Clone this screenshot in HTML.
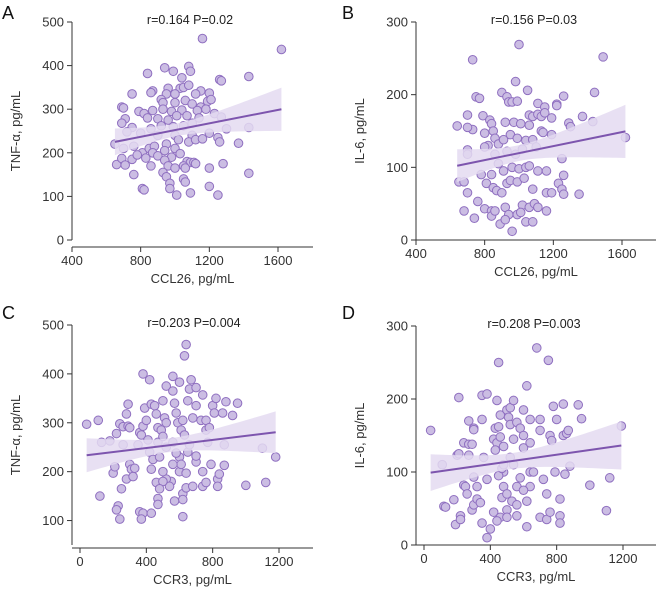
<!DOCTYPE html>
<html><head><meta charset="utf-8"><style>
body{margin:0;background:#fff}
svg{display:block;font-family:"Liberation Sans",sans-serif}
</style></head><body>
<svg id="c" width="659" height="596" viewBox="0 0 659 596"></svg>
<script>
const aX=[1160,1620,1080,940,990,1090,840,1430,1040,1260,1270,960,1030,1050,1080,1150,1200,870,860,750,950,1000,1120,920,1060,1190,1210,930,1000,1100,690,700,1150,1180,790,820,870,930,980,1040,1070,1130,1230,710,840,900,960,1010,1140,1270,690,750,860,920,990,1050,1100,1300,1430,1100,1000,900,800,720,1200,650,700,760,810,850,880,950,1020,1080,1120,1160,1250,1260,1370,660,690,710,750,780,830,860,870,900,940,980,1000,1030,1070,1090,1110,940,960,1000,1050,1060,1120,1200,1280,760,930,950,970,1050,1060,1430,810,820,970,1010,1090,1200,1250];
const aY=[462,437,398,395,387,387,382,375,372,368,365,348,348,350,355,342,337,342,338,335,335,335,335,322,320,318,322,315,315,312,305,303,305,300,295,290,297,300,295,298,285,297,290,278,280,278,275,285,280,282,268,258,255,262,260,262,268,255,258,240,240,240,245,248,245,220,210,215,200,210,215,220,230,225,230,232,235,225,222,173,187,172,185,195,188,170,200,193,205,190,210,198,180,178,178,183,170,165,170,165,175,165,175,150,155,145,130,140,133,153,118,115,118,103,108,123,103];
const bX=[1000,730,1490,980,1050,750,770,900,930,940,960,990,1110,1260,1440,1220,1150,1220,1370,1430,700,790,1060,1080,1110,1130,1150,640,730,700,830,840,920,970,1010,1060,1130,1190,1290,1300,1620,800,850,860,820,880,910,950,990,1040,1080,1140,1190,700,700,800,860,930,980,1020,1100,1250,840,880,910,960,1000,1040,1060,1110,1160,1260,780,650,680,810,850,870,900,930,950,990,1030,1080,1160,1190,1230,1250,1260,1350,700,760,800,840,840,860,920,940,990,1020,1060,1090,1110,1160,680,740,890,920,960,1040,1080,1010];
const bY=[269,248,252,218,206,197,195,203,197,190,190,191,188,198,203,187,183,185,170,163,172,171,172,170,173,170,175,157,152,155,165,160,162,162,160,158,150,168,161,156,141,147,150,140,130,132,138,145,140,137,138,148,145,124,118,128,118,122,118,125,128,112,90,105,95,100,98,100,102,95,95,89,90,80,80,78,72,68,65,78,82,80,85,70,65,65,78,70,63,63,65,53,43,40,33,40,45,35,35,48,45,50,45,40,40,30,22,28,12,25,25,38];
const cX=[40,110,130,120,180,200,220,210,230,220,240,250,240,260,260,280,290,290,300,280,300,310,320,330,350,360,370,380,390,380,420,400,410,360,380,370,430,430,450,460,470,470,420,440,430,460,480,470,470,490,500,510,500,520,520,560,560,570,600,580,590,610,620,630,640,630,660,650,670,700,700,680,600,600,610,620,620,620,640,640,650,680,700,700,730,740,760,760,740,740,760,780,790,800,810,820,830,830,840,860,870,870,880,920,950,1000,1100,1120,1180,550,570,520,540,560,580,500,480,500,560,520,660,770];
const cY=[297,305,260,150,263,197,278,210,130,122,103,165,298,292,255,318,338,293,290,185,215,205,190,207,255,280,275,293,330,400,388,305,265,118,115,103,115,338,335,318,290,260,240,225,205,178,230,145,133,285,272,310,345,300,375,365,395,340,383,320,300,285,305,275,460,437,369,345,388,372,335,310,230,200,215,155,143,108,167,197,240,170,220,232,305,357,305,285,200,170,178,290,215,335,320,350,185,170,195,320,255,213,343,315,340,172,248,178,230,180,140,185,170,215,238,180,165,200,260,250,255,260];
const dX=[40,110,120,130,180,190,200,210,210,220,220,240,240,250,260,270,270,270,290,290,300,300,300,300,320,320,340,350,350,350,360,380,380,400,380,420,420,430,440,440,450,450,460,460,480,480,480,470,460,440,500,500,500,510,520,520,540,540,560,560,560,580,600,600,600,620,640,640,640,640,620,660,680,700,700,700,720,740,740,750,760,760,770,780,790,800,820,820,820,840,840,850,860,870,880,930,950,1000,1100,1120,1190,430,450,470,520,540,580,600,620,500,530,560,480];
const dY=[157,110,53,52,62,28,123,125,202,40,35,82,140,80,70,170,123,138,138,48,160,158,93,55,63,80,58,30,172,205,120,207,90,22,10,145,45,160,198,140,250,162,178,148,135,100,80,65,38,33,48,38,185,175,188,165,198,145,168,80,40,160,133,150,185,218,172,140,100,80,25,100,270,172,157,38,90,35,70,253,45,150,143,190,100,172,63,40,30,193,150,97,153,157,108,192,173,82,47,92,163,130,95,105,120,110,92,75,60,70,60,55,110];

const panels=[
 {id:'a',letter:'A',xs:aX,ys:aY,ox:72,yTop:22,yBot:240,xAxisY:247,xMin:400,xMax:1600,xpx0:72,xpx1:278,xEnd:313,yMin:0,yMax:500,yTicks:[0,100,200,300,400,500],xTicks:[400,800,1200,1600],stat:'r=0.164 P=0.02',xl:'CCL26, pg/mL',yl:'TNF-α, pg/mL',tx:190,ylx:20,top:0},
 {id:'b',letter:'B',xs:bX,ys:bY,ox:416,yTop:22,yBot:240,xAxisY:240,xMin:400,xMax:1600,xpx0:416,xpx1:622,xEnd:656,yMin:0,yMax:300,yTicks:[0,100,200,300],xTicks:[400,800,1200,1600],stat:'r=0.156 P=0.03',xl:'CCL26, pg/mL',yl:'IL-6, pg/mL',tx:534,ylx:364,top:0},
 {id:'c',letter:'C',xs:cX,ys:cY,ox:72,yTop:325,yBot:545,xAxisY:548,xMin:0,xMax:1200,xpx0:80,xpx1:279,xEnd:313,yMin:50,yMax:500,yTicks:[100,200,300,400,500],xTicks:[0,400,800,1200],stat:'r=0.203 P=0.004',xl:'CCR3, pg/mL',yl:'TNF-α, pg/mL',tx:194,ylx:20,top:300},
 {id:'d',letter:'D',xs:dX,ys:dY,ox:416,yTop:326,yBot:545,xAxisY:545,xMin:0,xMax:1200,xpx0:424,xpx1:623,xEnd:656,yMin:0,yMax:300,yTicks:[0,100,200,300],xTicks:[0,400,800,1200],stat:'r=0.208 P=0.003',xl:'CCR3, pg/mL',yl:'IL-6, pg/mL',tx:534,ylx:364,top:300}
];
const svg=document.getElementById('c');
const NS='http://www.w3.org/2000/svg';
function mk(tag,attrs,parent,text){const e=document.createElementNS(NS,tag);for(const k in attrs)e.setAttribute(k,attrs[k]);if(text!==undefined)e.textContent=text;parent.appendChild(e);return e;}
panels.forEach(p=>{
 const g=mk('g',{},svg);
 
 
 const sx=v=>p.xpx0+(v-p.xMin)/(p.xMax-p.xMin)*(p.xpx1-p.xpx0);
 const sy=v=>p.yBot-(v-p.yMin)/(p.yMax-p.yMin)*(p.yBot-p.yTop);
 const L=mk('text',{x:p.ox-70+(p.id==='b'||p.id==='d'?-4:0),y:p.top+19,'font-size':18,fill:'#111'},g,p.letter);
 
 
 const st=mk('text',{x:p.tx,y:p.yTop+2,'font-size':12.5,fill:'#222','text-anchor':'middle'},g,p.stat);
 
 
 const ya=mk('line',{x1:p.ox,x2:p.ox,y1:p.yTop,y2:p.yBot,stroke:'#333','stroke-width':1},g);
 
 
 const xa=mk('line',{x1:p.ox,x2:p.xEnd,y1:p.xAxisY,y2:p.xAxisY,stroke:'#333','stroke-width':1},g);
 
 
 p.yTicks.forEach(t=>{
  mk('line',{x1:p.ox-5,x2:p.ox,y1:sy(t),y2:sy(t),stroke:'#333'},g);
  const tl=mk('text',{x:p.ox-8,y:sy(t)+4.5,'font-size':13,fill:'#333','text-anchor':'end'},g,t);
  
  
 });
 p.xTicks.forEach(t=>{
  mk('line',{x1:sx(t),x2:sx(t),y1:p.xAxisY,y2:p.xAxisY+5,stroke:'#333'},g);
  const tl=mk('text',{x:sx(t),y:p.xAxisY+18,'font-size':13,fill:'#333','text-anchor':'middle'},g,t);
  
  
 });
 const xt=mk('text',{x:(p.ox+p.xEnd)/2,y:p.xAxisY+36,'font-size':13,fill:'#333','text-anchor':'middle'},g,p.xl);
 
 
 const yc=(p.yTop+p.yBot)/2;
 const yt=mk('text',{x:p.ylx,y:yc,'font-size':13,fill:'#333','text-anchor':'middle',transform:`rotate(-90 ${p.ylx} ${yc})`},g,p.yl);
 
 
 const n=Math.min(p.xs.length,p.ys.length);
 let mx=0,my=0;for(let i=0;i<n;i++){mx+=p.xs[i];my+=p.ys[i];}mx/=n;my/=n;
 let sxx=0,sxy=0;for(let i=0;i<n;i++){sxx+=(p.xs[i]-mx)**2;sxy+=(p.xs[i]-mx)*(p.ys[i]-my);}
 const b=sxy/sxx,a=my-b*mx;
 let sse=0;for(let i=0;i<n;i++)sse+=(p.ys[i]-a-b*p.xs[i])**2;
 const s=Math.sqrt(sse/(n-2));
 const x0=Math.min(...p.xs),x1=Math.max(...p.xs);
 const up=[],lo=[];
 for(let k=0;k<=40;k++){const x=x0+(x1-x0)*k/40;const h=1.97*s*Math.sqrt(1/n+(x-mx)**2/sxx);const yv=a+b*x;up.push(sx(x)+','+sy(yv+h));lo.unshift(sx(x)+','+sy(yv-h));}
 for(let i=0;i<n;i++){
  const c=mk('circle',{cx:sx(p.xs[i]),cy:sy(p.ys[i]),r:4.3,fill:'#cbbde3',stroke:'#8f6fc0','stroke-width':1},g);
  
  
 }
 const band=mk('polygon',{points:up.concat(lo).join(' '),fill:'#e4dbf1','fill-opacity':0.85},g);
 
 
 const ln=mk('line',{x1:sx(x0),y1:sy(a+b*x0),x2:sx(x1),y2:sy(a+b*x1),stroke:'#7d55ae','stroke-width':2},g);
 
 
});
</script>
</body></html>
